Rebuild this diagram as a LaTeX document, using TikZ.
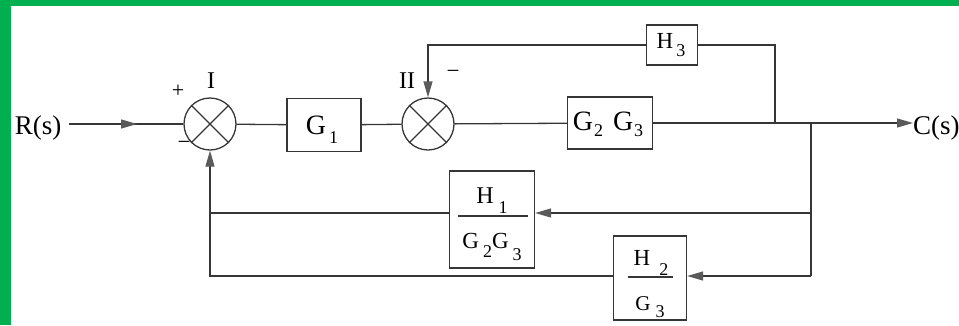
\documentclass[tikz,border=0pt]{standalone}
\usepackage{fontspec}
\setmainfont{Liberation Serif}
\usetikzlibrary{arrows.meta,decorations.markings,calc}
\definecolor{bordergreen}{HTML}{00B050}
\definecolor{ink}{HTML}{363636}
\definecolor{tipgray}{HTML}{5A5A5A}
\newcommand\lsub[3][3pt]{\hspace{#1}\raisebox{-#2}{\fontsize{18}{18}\selectfont #3}}
\begin{document}
\begin{tikzpicture}[x=1pt,y=-1pt,
  line/.style={draw=ink, line width=1.3pt},
  blk/.style={draw=ink, line width=1.3pt, inner sep=0pt},
  sumj/.style={circle, draw=ink, line width=1.3pt, minimum size=52pt, inner sep=0pt},
  bigtxt/.style={font=\fontsize{28}{28}\selectfont, inner sep=0pt, anchor=base},
  midtxt/.style={font=\fontsize{23}{23}\selectfont, inner sep=0pt, anchor=base},
  smalltxt/.style={font=\fontsize{23}{23}\selectfont, inner sep=0pt},
  tip/.style={-{Triangle[length=16pt,width=9pt,color=tipgray]}},
  midarrow/.style={postaction={decorate}, decoration={markings,
     mark=at position 0.62 with {\arrow{Triangle[length=16pt,width=9pt,color=tipgray]}}}}
]
\fill[bordergreen] (0,0) rectangle (959,6);
\fill[bordergreen] (0,0) rectangle (11,325);
\useasboundingbox (0,0) rectangle (959,325);

% forward path
\node[bigtxt, font=\fontsize{27}{27}\selectfont] (R) at (38,134) {R(s)};
\node[sumj] (s1) at (210,124) {};
\draw[line] (s1.north east) -- (s1.south west) (s1.north west) -- (s1.south east);
\node[blk, minimum width=74pt, minimum height=53pt] (G1) at (324,125) {};
\node[bigtxt] (G1t) at (322,134) {G\lsub{9pt}{1}};
\node[sumj] (s2) at (428,124) {};
\draw[line] (s2.north east) -- (s2.south west) (s2.north west) -- (s2.south east);
\node[blk, minimum width=85pt, minimum height=52pt] (G23) at (610,123) {};
\node[bigtxt] (G23t) at (608,130) {G\lsub[1pt]{6pt}{2}\hspace{10pt}G\lsub[1pt]{6pt}{3}};
\node[blk, minimum width=51pt, minimum height=40pt] (H3) at (672,45) {};
\node[midtxt] (H3t) at (671,48) {H\lsub[3pt]{8pt}{3}};
\node[bigtxt, font=\fontsize{27}{27}\selectfont, anchor=base west] (C) at (913,134) {C(s)};

% feedback blocks
\node[blk, minimum width=85pt, minimum height=97pt] (H1) at (492,219.5) {};
\node[midtxt, font=\fontsize{24}{24}\selectfont] (H1n) at (492,203) {H\lsub[5pt]{10pt}{1}};
\draw[line] (458,216) -- (528,216);
\node[midtxt] (H1d) at (492,248) {G\lsub[4pt]{9pt}{2}G\lsub[4pt]{12pt}{3}};
\node[blk, minimum width=73pt, minimum height=84pt] (H2) at (650,278) {};
\node[midtxt] (H2n) at (651,265) {H\lsub[9pt]{10pt}{2}};
\draw[line] (628,277) -- (673,277);
\node[midtxt, font=\fontsize{21}{21}\selectfont] (H2d) at (650,310) {G\lsub[5pt]{7pt}{3}};

% labels
\node[smalltxt, font=\fontsize{22}{22}\selectfont] (plus) at (178,91) {+};
\node[midtxt, font=\fontsize{24}{24}\selectfont] (lI) at (211,88) {I};
\node[smalltxt] (m1) at (184,145) {−};
\node[midtxt, font=\fontsize{24}{24}\selectfont] (lII) at (407,88) {II};
\node[smalltxt] (m2) at (453,74) {−};

% connectors
\coordinate (b1) at (775,123);
\coordinate (b2) at (811,123);
\coordinate (f1) at (811,213);
\coordinate (f2) at (811,276);
\draw[line, midarrow, shorten <=8pt] (R.east |- s1.west) -- (s1.west);
\draw[line] (s1) -- (G1);
\draw[line] (G1) -- (s2);
\draw[line] (s2) -- (G23);
\draw[line, tip] (G23.east) -- (G23.east -| C.west);
\draw[line] (b1) |- (H3.east);
\draw[line, tip] (H3.west) -| (s2.north);
\draw[line] (b2) -- (f2);
\draw[line, tip] (f1) -- (f1 -| H1.east);
\draw[line] (H1.west |- f1) -- (f1 -| s1);
\draw[line, tip] (f2) -- (f2 -| H2.east);
\draw[line, tip] (H2.west |- f2) -| (s1.south);
\end{tikzpicture}
\end{document}
